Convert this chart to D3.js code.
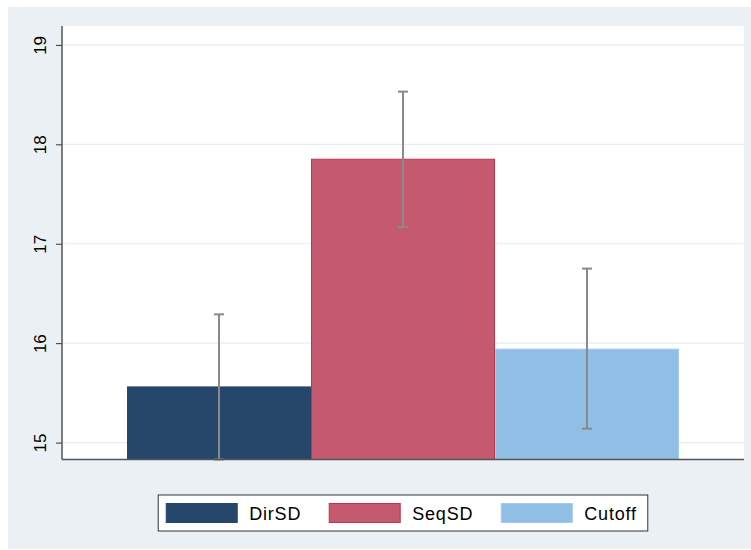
<!DOCTYPE html>
<html>
<head>
<meta charset="utf-8">
<script src="https://cdn.jsdelivr.net/npm/d3@7"></script>
<style>
  html, body { margin: 0; padding: 0; background: #ffffff; }
  svg { display: block; }
  text { font-family: "Liberation Sans", Arial, Helvetica, sans-serif; fill: #000; }
</style>
</head>
<body>
<svg id="chart" width="751" height="550"></svg>
<script>
// ---- data ----
const categories = ["DirSD", "SeqSD", "Cutoff"];
const means = [15.56, 17.85, 15.94];
const ciLower = [14.83, 17.17, 15.14];
const ciUpper = [16.29, 18.53, 16.75];
const yTicks = [15, 16, 17, 18, 19];
const yRange = [14.83, 19.19];
const fills = ["#26476b", "#c4596f", "#90bee4"];
const strokes = ["#26476b", "#b8384f", "#a4cbec"];

// ---- layout ----
const W = 751, H = 550;
const plot = { left: 62, right: 744, top: 26, bottom: 459.5 };
const barsLeft = 127, barsRight = 679;

const svg = d3.select("#chart");

// outer background
svg.append("rect").attr("x", 8).attr("y", 7).attr("width", W - 8).attr("height", H - 8)
  .attr("fill", "#eaf0f4");

// plot region
svg.append("rect").attr("x", plot.left).attr("y", plot.top)
  .attr("width", plot.right - plot.left).attr("height", plot.bottom - plot.top)
  .attr("fill", "#ffffff");

const y = d3.scaleLinear().domain(yRange).range([plot.bottom, plot.top]);
const x = d3.scaleBand().domain(categories).range([barsLeft, barsRight]).padding(0);

// gridlines
svg.append("g").selectAll("line").data(yTicks).join("line")
  .attr("x1", plot.left).attr("x2", plot.right)
  .attr("y1", d => y(d)).attr("y2", d => y(d))
  .attr("stroke", "#e6edf1").attr("stroke-width", 1.2);

// bars
svg.append("g").selectAll("rect").data(categories).join("rect")
  .attr("x", d => x(d) + 0.5)
  .attr("y", (d, i) => y(means[i]))
  .attr("width", x.bandwidth() - 1)
  .attr("height", (d, i) => plot.bottom - y(means[i]))
  .attr("fill", (d, i) => fills[i])
  .attr("stroke", (d, i) => strokes[i])
  .attr("stroke-width", 1);

// error bars
const eb = svg.append("g").attr("stroke", "#8a8a8a").attr("stroke-width", 2);
categories.forEach((c, i) => {
  const cx = x(c) + x.bandwidth() / 2;
  eb.append("line").attr("x1", cx).attr("x2", cx)
    .attr("y1", y(ciLower[i])).attr("y2", y(ciUpper[i]));
  [ciLower[i], ciUpper[i]].forEach(v => {
    eb.append("line").attr("x1", cx - 5).attr("x2", cx + 5)
      .attr("y1", y(v)).attr("y2", y(v));
  });
});

// y axis
const yAxis = d3.axisLeft(y).tickValues(yTicks).tickSize(6).tickPadding(0).tickFormat(d3.format("d"));
const gy = svg.append("g").attr("transform", `translate(${plot.left},0)`).call(yAxis);
gy.select(".domain").remove();
gy.selectAll(".tick line").attr("stroke", "#333").attr("stroke-width", 1);
gy.selectAll(".tick text")
  .attr("font-size", 17)
  .attr("text-anchor", "middle")
  .attr("dominant-baseline", "auto")
  .attr("dy", null)
  .attr("x", 0).attr("y", 0)
  .attr("transform", "translate(-16,0) rotate(-90)");

// axis lines
svg.append("line").attr("x1", plot.left).attr("x2", plot.left)
  .attr("y1", plot.top).attr("y2", plot.bottom)
  .attr("stroke", "#555").attr("stroke-width", 1.5);
svg.append("line").attr("x1", plot.left).attr("x2", plot.right)
  .attr("y1", plot.bottom).attr("y2", plot.bottom)
  .attr("stroke", "#555").attr("stroke-width", 1.5);

// legend
const legY = 495, legH = 36, swW = 71, swH = 19;
const leg = svg.append("g");
const legBox = leg.append("rect").attr("y", legY).attr("height", legH)
  .attr("fill", "#ffffff").attr("stroke", "#333").attr("stroke-width", 1);
let cursor = 8;
const items = leg.append("g");
categories.forEach((c, i) => {
  items.append("rect").attr("x", cursor).attr("y", legY + (legH - swH) / 2)
    .attr("width", swW).attr("height", swH)
    .attr("fill", fills[i]).attr("stroke", strokes[i]).attr("stroke-width", 1);
  const t = items.append("text").attr("x", cursor + swW + 12).attr("y", legY + legH / 2 + 6.5)
    .attr("font-size", 18).attr("letter-spacing", 0.8).text(c);
  const tw = t.node().getComputedTextLength();
  cursor = cursor + swW + 12 + tw + (i < categories.length - 1 ? 28 : 11);
});
const legW = cursor;
const legX = (plot.left + plot.right) / 2 - legW / 2;
legBox.attr("x", legX).attr("width", legW);
items.attr("transform", `translate(${legX},0)`);
</script>
</body>
</html>
